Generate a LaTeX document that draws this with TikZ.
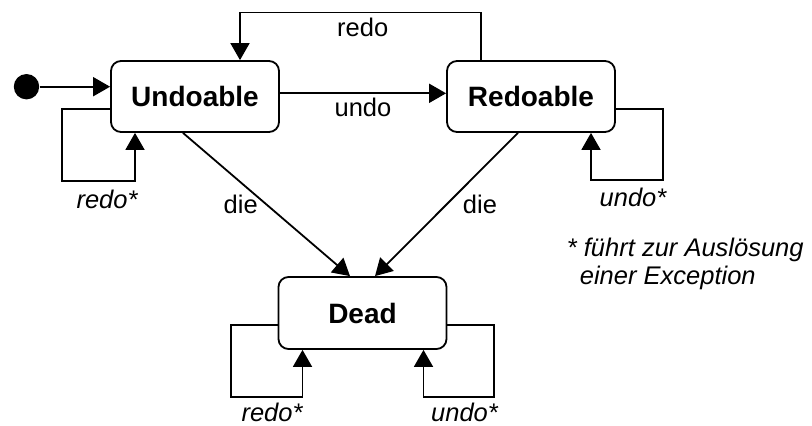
\documentclass[tikz,border=0pt]{standalone}
\usepackage{fontspec}
\setmainfont{Liberation Sans}
\usetikzlibrary{arrows.meta}

\begin{document}
\begin{tikzpicture}[x=1pt,y=-1pt,
  line width=1.8pt,
  statebox/.style={draw, rounded corners=10pt, minimum width=168pt,
    minimum height=71pt, inner sep=0pt,
    font=\bfseries\fontsize{28}{34}\selectfont},
  arr/.style={-{Triangle[length=17pt,width=19pt]}},
  lbl/.style={anchor=base, inner sep=0pt, font=\fontsize{25.5}{30}\selectfont},
  ilbl/.style={anchor=base, inner sep=0pt, font=\itshape\fontsize{25.5}{30}\selectfont},
]
\useasboundingbox (0,0) rectangle (812,426);

% states
\node[circle, fill, inner sep=0pt, minimum size=25.4pt] (S) at (26.5,86.7) {};
\node[statebox] (U) at (195,96.5) {Undoable};
\node[statebox] (R) at (531,96.5) {Redoable};
\node[statebox, minimum height=72pt] (D) at (362.5,313) {Dead};

% transitions between states
\draw[arr] (S) -- (S -| U.west);
\draw[arr] ([yshift=3.2pt]U.east) -- ([yshift=3.2pt]R.west);
\draw[arr] ([xshift=-50pt]R.north) -- ++(0,-47.7) -| ([xshift=45pt]U.north);
\draw[arr] ([xshift=-12pt]U.south) -- ([xshift=-12.5pt]D.north);
\draw[arr] ([xshift=-13pt]R.south) -- ([xshift=12.5pt]D.north);

% self loops
\draw[arr] ([yshift=-12.5pt]U.west) -| (62,181) -| ([xshift=-60pt]U.south);
\draw[arr] ([yshift=-12.5pt]R.east) -| (662.7,180) -| ([xshift=60pt]R.south);
\draw[arr] ([yshift=-12pt]D.west) -| (230.7,396.7) -| ([xshift=-60pt]D.south);
\draw[arr] ([yshift=-12pt]D.east) -| (494,396.7) -| ([xshift=61pt]D.south);

% transition labels
\node[lbl] (lredo) at (362.7,36.7) {redo};
\node[lbl] (lundo) at (363,116.7) {undo};
\node[lbl] (ldie1) at (240.7,213) {die};
\node[lbl] (ldie2) at (480,213) {die};
\node[ilbl] (lur) at (107,208.3) {redo*};
\node[ilbl] (lru) at (633,206.7) {undo*};
\node[ilbl] (ldr) at (272,421) {redo*};
\node[ilbl] (ldu) at (464.5,421) {undo*};

% footnote
\node[ilbl, anchor=base west] (n1) at (566,256.7) {* führt zur Auslösung};
\node[ilbl, anchor=base west] (n2) at (579,284.3) {einer Exception};
\end{tikzpicture}
\end{document}
